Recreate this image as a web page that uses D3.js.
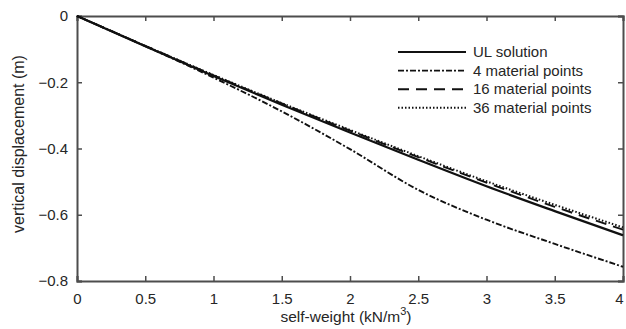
<!DOCTYPE html>
<html>
<head>
<meta charset="utf-8">
<script src="https://cdn.jsdelivr.net/npm/d3@7"></script>
<style>
  body { margin: 0; background: #fff; }
  text { font-family: "Liberation Sans", Arial, sans-serif; fill: #262626; }
</style>
</head>
<body>
<div id="chart"></div>
<script>
// self-weight (kN/m^3)
var weights = [0, 0.5, 1, 1.5, 2, 2.5, 3, 3.5, 4];
// vertical displacement (m)
var ulSolution = [0, -0.091, -0.181, -0.268, -0.352, -0.434, -0.514, -0.589, -0.662];
var mp4 = [0, -0.091, -0.186, -0.288, -0.402, -0.525, -0.615, -0.688, -0.757];
var mp16 = [0, -0.090, -0.179, -0.264, -0.346, -0.426, -0.503, -0.576, -0.645];
var mp36 = [0, -0.090, -0.178, -0.263, -0.344, -0.423, -0.499, -0.570, -0.638];

var xTicks = [0, 0.5, 1, 1.5, 2, 2.5, 3, 3.5, 4];
var yTicks = [0, -0.2, -0.4, -0.6, -0.8];

var seriesNames = ["UL solution", "4 material points", "16 material points", "36 material points"];
var seriesData = [ulSolution, mp4, mp16, mp36];
var dashes = [null, "6,2,2,2", "11,7", "1.5,2"];
var widths = [2.2, 1.9, 1.9, 2];

var svgWidth = 626, svgHeight = 329;
var margin = {top: 16, right: 3, bottom: 48, left: 77};
var width = svgWidth - margin.left - margin.right;
var height = svgHeight - margin.top - margin.bottom;

var svg = d3.select("#chart").append("svg")
    .attr("width", svgWidth)
    .attr("height", svgHeight);

var chartGroup = svg.append("g")
    .attr("transform", `translate(${margin.left}, ${margin.top})`);

var xScale = d3.scaleLinear().domain([0, 4]).range([0, width]);
var yScale = d3.scaleLinear().domain([-0.8, 0]).range([height, 0]);

var axisColor = "#4d4d4d";

// axes: bottom/left with labels, top/right as box with ticks only
var bottomAxis = d3.axisBottom(xScale).tickValues(xTicks).tickSize(-5).tickPadding(12)
    .tickFormat(d3.format("~g"));
var leftAxis = d3.axisLeft(yScale).tickValues(yTicks).tickSize(-5).tickPadding(9)
    .tickFormat(d => d === 0 ? "0" : d3.format(".1f")(d));
var topAxis = d3.axisTop(xScale).tickValues(xTicks).tickSize(-5).tickFormat("");
var rightAxis = d3.axisRight(yScale).tickValues(yTicks).tickSize(-5).tickFormat("");

var xAxisG = chartGroup.append("g").attr("transform", `translate(0, ${height})`).call(bottomAxis);
var axes = [
    xAxisG,
    chartGroup.append("g").call(leftAxis),
    chartGroup.append("g").call(topAxis),
    chartGroup.append("g").attr("transform", `translate(${width}, 0)`).call(rightAxis)
];
axes.forEach(function(g) {
    g.select(".domain").attr("stroke", axisColor).attr("stroke-width", 2);
    g.selectAll(".tick line").attr("stroke", axisColor).attr("stroke-width", 1.5);
    g.selectAll(".tick text").attr("font-size", 15).attr("fill", "#262626")
        .attr("font-family", "Liberation Sans, Arial, sans-serif");
});
// last x label sits right at the page edge, nudge it in
xAxisG.selectAll(".tick text").filter(d => d === 4).attr("dx", -4);

// lines
var line = d3.line()
    .x(d => xScale(d[0]))
    .y(d => yScale(d[1]))
    .curve(d3.curveMonotoneX);

seriesData.forEach(function(vals, i) {
    chartGroup.append("path")
        .datum(weights.map((w, j) => [w, vals[j]]))
        .attr("fill", "none")
        .attr("stroke", "#111")
        .attr("stroke-width", widths[i])
        .attr("stroke-dasharray", dashes[i])
        .attr("d", line);
});

// legend
var legend = chartGroup.append("g")
    .attr("transform", `translate(${398 - margin.left}, ${52 - margin.top})`);
seriesNames.forEach(function(name, i) {
    var row = legend.append("g").attr("transform", `translate(0, ${i * 18.6})`);
    row.append("line")
        .attr("x1", 0).attr("x2", 68)
        .attr("stroke", "#111")
        .attr("stroke-width", widths[i])
        .attr("stroke-dasharray", dashes[i]);
    row.append("text")
        .attr("x", 75).attr("y", 0).attr("dy", "0.35em")
        .attr("font-size", 15)
        .text(name);
});

// axis labels
var xLabel = svg.append("text")
    .attr("x", margin.left + width / 2 - 4)
    .attr("y", 322)
    .attr("text-anchor", "middle")
    .attr("font-size", 15.5);
xLabel.append("tspan").text("self-weight (kN/m");
xLabel.append("tspan").attr("dy", -7).attr("font-size", 11).text("3");
xLabel.append("tspan").attr("dy", 7).text(")");

svg.append("text")
    .attr("transform", "translate(24, 144) rotate(-90)")
    .attr("text-anchor", "middle")
    .attr("font-size", 16)
    .text("vertical displacement (m)");
</script>
</body>
</html>
